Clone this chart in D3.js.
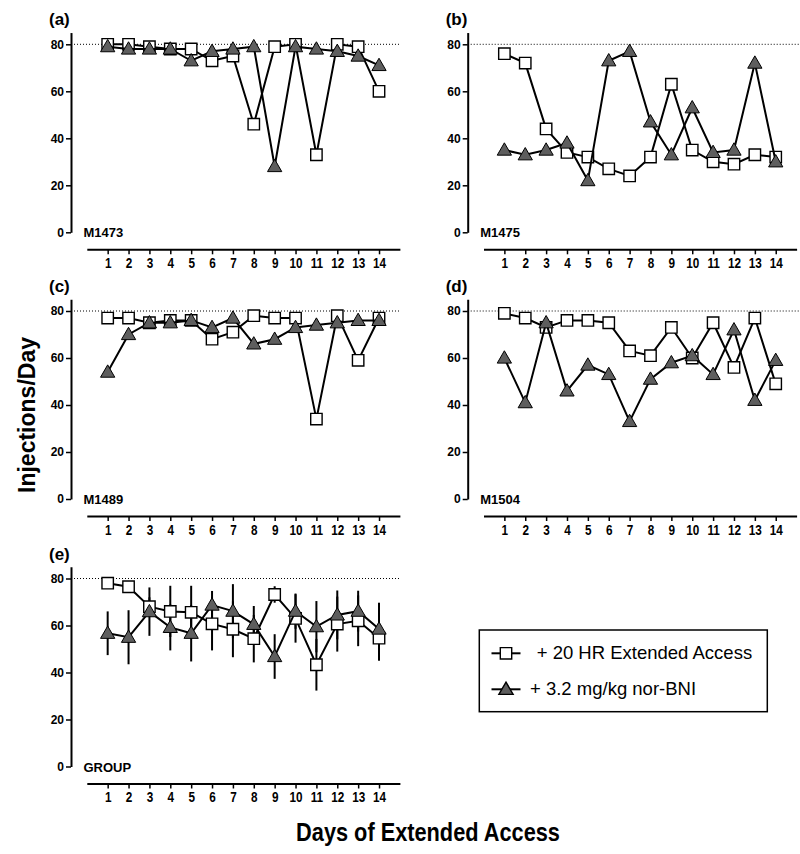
<!DOCTYPE html>
<html>
<head>
<meta charset="utf-8">
<script src="https://cdn.jsdelivr.net/npm/d3@7"></script>
<style>
  body { margin: 0; background: #fff; }
  svg { font-family: "Liberation Sans", Arial, sans-serif; }
</style>
</head>
<body>
<script>
const width = 800;
const height = 854;

const days = [1, 2, 3, 4, 5, 6, 7, 8, 9, 10, 11, 12, 13, 14];
const yTicks = [0, 20, 40, 60, 80];
const seriesNames = ['+ 20 HR Extended Access', '+ 3.2 mg/kg nor-BNI'];

// (a) M1473
const m1473Access = [80, 80, 79, 78, 78, 73, 75, 46, 79, 80, 33, 80, 79, 60];
const m1473Bni = [79, 78, 78, 78, 73, 77, 78, 79, 28, 79, 78, 77, 75, 71];
// (b) M1475
const m1475Access = [76, 72, 44, 34, 32, 27, 24, 32, 63, 35, 30, 29, 33, 32];
const m1475Bni = [35, 33, 35, 38, 22, 73, 77, 47, 33, 53, 34, 35, 72, 30];
// (c) M1489
const m1489Access = [77, 77, 75, 76, 76, 68, 71, 78, 77, 77, 34, 78, 59, 77];
const m1489Bni = [54, 70, 75, 75, 76, 73, 77, 66, 68, 73, 74, 75, 76, 76];
// (d) M1504
const m1504Access = [79, 77, 73, 76, 76, 75, 63, 61, 73, 60, 75, 56, 77, 49];
const m1504Bni = [60, 41, 75, 46, 57, 53, 33, 51, 58, 61, 53, 72, 42, 59];
// (e) GROUP mean +/- SEM
const groupAccess = [78, 76.5, 68, 66, 65.6, 60.7, 58.4, 54.4, 73.2, 63, 43.3, 60.6, 62, 54.6];
const groupAccessSem = [1, 1.5, 4, 10.9, 11.3, 11.3, 11.9, 10.1, 3.5, 10.3, 11, 11.7, 10.8, 9.6];
const groupBni = [56.7, 55, 65.9, 59.2, 56.7, 68.7, 66.1, 60.5, 46.8, 66.1, 59.5, 64.5, 66.1, 58.5];
const groupBniSem = [9.3, 11.5, 10.3, 9.8, 12, 6, 11.5, 7.8, 9.5, 7.5, 10.9, 10.4, 8.7, 11.2];

const panels = [
  {tag: '(a)', name: 'M1473', col: 0, row: 0, access: m1473Access, bni: m1473Bni},
  {tag: '(b)', name: 'M1475', col: 1, row: 0, access: m1475Access, bni: m1475Bni},
  {tag: '(c)', name: 'M1489', col: 0, row: 1, access: m1489Access, bni: m1489Bni},
  {tag: '(d)', name: 'M1504', col: 1, row: 1, access: m1504Access, bni: m1504Bni},
  {tag: '(e)', name: 'GROUP', col: 0, row: 2, access: groupAccess, bni: groupBni,
   accessSem: groupAccessSem, bniSem: groupBniSem}
];

const colX = [71, 467.7];
const colRight = [400, 800];
const rowTop = [44.3, 311, 578.5];
const plotH = 188;
const triFill = '#5e5e5e';

const svg = d3.select('body').append('svg')
  .attr('width', width)
  .attr('height', height);

const squareSym = d3.symbol().type(d3.symbolSquare).size(130);
const triSym = d3.symbol().type(d3.symbolTriangle).size(88);

panels.forEach(p => {
  const ax = colX[p.col];
  const top = rowTop[p.row];
  const g = svg.append('g').attr('transform', `translate(${ax},${top})`);

  const y = d3.scaleLinear().domain([0, 80]).range([plotH, 0]);
  const x = d3.scaleLinear().domain([0, 15]).range([15.8, 328.9]);

  // dotted 80 line
  g.append('line')
    .attr('x1', 0).attr('x2', colRight[p.col] - ax)
    .attr('y1', y(80)).attr('y2', y(80))
    .attr('stroke', '#000').attr('stroke-width', 1)
    .attr('stroke-dasharray', '1,2');

  const yAxis = g.append('g')
    .call(d3.axisLeft(y.copy().domain([0, 85]).range([plotH, y(85)])).tickValues(yTicks).tickSize(5).tickPadding(2).tickSizeOuter(0));
  yAxis.select('.domain').attr('stroke-width', 2);
  yAxis.selectAll('.tick line').attr('stroke-width', 1.5);
  yAxis.selectAll('.tick text').attr('font-size', 12).attr('font-weight', 'bold')
    .attr('font-family', '"Liberation Sans", Arial, sans-serif');

  const xAxis = g.append('g')
    .attr('transform', `translate(0,${plotH + 17})`)
    .call(d3.axisBottom(x).tickValues(days).tickSize(5).tickPadding(4).tickSizeOuter(0));
  xAxis.select('.domain').attr('stroke-width', 2);
  xAxis.selectAll('.tick line').attr('stroke-width', 1.5);
  xAxis.selectAll('.tick text')
    .attr('font-family', '"Liberation Sans", Arial, sans-serif')
    .attr('font-size', 14).attr('font-weight', 'bold')
    .attr('transform', 'scale(0.84,1)');

  g.append('text')
    .attr('x', -22).attr('y', y(80) - 19)
    .attr('font-size', 17).attr('font-weight', 'bold')
    .text(p.tag);

  g.append('text')
    .attr('x', 12.5).attr('y', plotH + 5)
    .attr('font-size', 13).attr('font-weight', 'bold')
    .text(p.name);

  const line = d3.line().x((d, i) => x(days[i])).y(d => y(d));

  // error bars
  [[p.access, p.accessSem], [p.bni, p.bniSem]].forEach(([vals, sem]) => {
    if (!sem) return;
    g.append('g').selectAll('line')
      .data(vals)
      .join('line')
      .attr('x1', (d, i) => x(days[i])).attr('x2', (d, i) => x(days[i]))
      .attr('y1', (d, i) => y(d - sem[i])).attr('y2', (d, i) => y(d + sem[i]))
      .attr('stroke', '#000').attr('stroke-width', 2);
  });

  g.append('path').datum(p.access)
    .attr('d', line).attr('fill', 'none')
    .attr('stroke', '#000').attr('stroke-width', 2);
  g.append('g').selectAll('path')
    .data(p.access)
    .join('path')
    .attr('transform', (d, i) => `translate(${x(days[i])},${y(d)})`)
    .attr('d', squareSym)
    .attr('fill', '#fff').attr('stroke', '#000').attr('stroke-width', 1.4);

  g.append('path').datum(p.bni)
    .attr('d', line).attr('fill', 'none')
    .attr('stroke', '#000').attr('stroke-width', 2);
  g.append('g').selectAll('path')
    .data(p.bni)
    .join('path')
    .attr('transform', (d, i) => `translate(${x(days[i])},${y(d) + 1})`)
    .attr('d', triSym)
    .attr('fill', triFill).attr('stroke', '#000').attr('stroke-width', 1);
});

// axis titles
svg.append('text')
  .attr('transform', 'translate(35,415) rotate(-90)')
  .attr('text-anchor', 'middle')
  .attr('font-size', 23).attr('font-weight', 'bold')
  .text('Injections/Day');

svg.append('text')
  .attr('transform', 'translate(428,841) scale(0.87,1)')
  .attr('text-anchor', 'middle')
  .attr('font-size', 25).attr('font-weight', 'bold')
  .text('Days of Extended Access');

// legend
const legend = svg.append('g');
legend.append('rect')
  .attr('x', 479.3).attr('y', 630)
  .attr('width', 288).attr('height', 81.7)
  .attr('fill', '#fff').attr('stroke', '#000').attr('stroke-width', 1.5);

const legendRows = [
  {label: seriesNames[0], cy: 653.3, tx: 536.7, sym: squareSym, fill: '#fff', dy: 0},
  {label: seriesNames[1], cy: 689.3, tx: 530, sym: triSym, fill: triFill, dy: 1}
];
legendRows.forEach(r => {
  legend.append('line')
    .attr('x1', 491.5).attr('x2', 520.5)
    .attr('y1', r.cy).attr('y2', r.cy)
    .attr('stroke', '#000').attr('stroke-width', 2);
  legend.append('path')
    .attr('transform', `translate(506,${r.cy + r.dy})`)
    .attr('d', r.sym)
    .attr('fill', r.fill).attr('stroke', '#000').attr('stroke-width', 1.4);
  legend.append('text')
    .attr('x', r.tx).attr('y', r.cy + 6)
    .attr('font-size', 18.5)
    .text(r.label);
});
</script>
</body>
</html>
